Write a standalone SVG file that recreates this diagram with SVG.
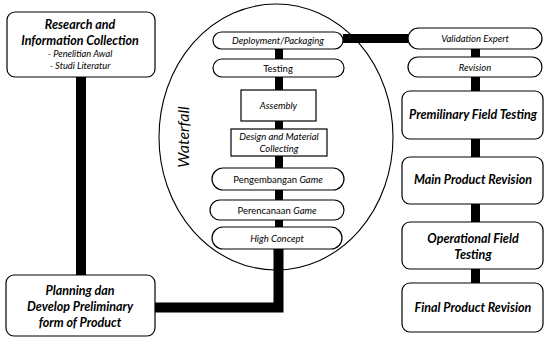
<svg xmlns="http://www.w3.org/2000/svg" width="544" height="338" viewBox="0 0 544 338">
<style>
text{font-family:"Lato","Liberation Sans",sans-serif;fill:#000;text-anchor:middle}
.b{font-weight:bold;font-style:italic;font-size:12.5px}
.i{font-style:italic;font-size:9.5px}
.n{font-size:9.5px}
.s{font-style:italic;font-size:9.3px}
.box{fill:#fff;stroke:#000;stroke-width:1.2}
.c{stroke:#000;fill:none;stroke-linejoin:miter}
</style>
<rect width="544" height="338" fill="#fff"/>
<g id="waterfall">
<ellipse cx="276" cy="137" rx="117" ry="133" fill="none" stroke="#000" stroke-width="1.1"/>
<text transform="translate(189,137) rotate(-90)" style="font-style:italic;font-size:16px">Waterfall</text>
</g>
<g id="connectors">
<path class="c" stroke-width="10" d="M81,77V275"/>
<path class="c" stroke-width="10" d="M155,307.5H278.5V249"/>
<path class="c" stroke-width="8" d="M279,49V59M279,77V90M279,121V129M279,156V168M279,190V200M279,220V227"/>
<path class="c" stroke-width="9" d="M343,38.5H408"/>
<path class="c" stroke-width="9" d="M475.5,49V57M475.5,77V91M475.5,139V157M475.5,204V222M475.5,269V283"/>
</g>
<g id="research">
<rect class="box" x="7" y="12" width="148" height="65" rx="8"/>
<text class="b" x="80" y="29">Research and</text>
<text class="b" x="80" y="45">Information Collection</text>
<text class="s" x="80" y="57">- Penelitian Awal</text>
<text class="s" x="80" y="69">- Studi Literatur</text>
</g>
<g id="planning">
<rect class="box" x="6" y="275" width="149" height="61" rx="8"/>
<text class="b" x="80" y="295">Planning dan</text>
<text class="b" x="80" y="311">Develop Preliminary</text>
<text class="b" x="80" y="327">form of Product</text>
</g>
<g id="deployment">
<rect class="box" x="213" y="32" width="130" height="17" rx="8.5"/>
<text class="i" x="278" y="44">Deployment/Packaging</text>
</g>
<g id="testing">
<rect class="box" x="213" y="59" width="131" height="18" rx="9"/>
<text class="n" x="278" y="72">Testing</text>
</g>
<g id="assembly">
<rect class="box" x="241" y="90" width="75" height="31"/>
<text class="i" x="278.5" y="109">Assembly</text>
</g>
<g id="design">
<rect class="box" x="231" y="129" width="96" height="27"/>
<text class="i" x="279" y="140">Design and Material</text>
<text class="i" x="279" y="152">Collecting</text>
</g>
<g id="pengembangan">
<rect class="box" x="212" y="168" width="132" height="22" rx="11"/>
<text class="n" x="278" y="183">Pengembangan <tspan font-style="italic">Game</tspan></text>
</g>
<g id="perencanaan">
<rect class="box" x="210" y="200" width="134" height="20" rx="10"/>
<text class="n" x="277" y="214">Perencanaan <tspan font-style="italic">Game</tspan></text>
</g>
<g id="highconcept">
<rect class="box" x="212" y="227" width="130" height="22" rx="11"/>
<text class="i" x="277" y="242">High Concept</text>
</g>
<g id="validation">
<rect class="box" x="408" y="28" width="134" height="21" rx="10.5"/>
<text class="i" x="475" y="42">Validation Expert</text>
</g>
<g id="revision">
<rect class="box" x="408" y="57" width="134" height="20" rx="10"/>
<text class="i" x="475" y="71">Revision</text>
</g>
<g id="premilinary">
<rect class="box" x="402" y="91" width="141" height="48" rx="8"/>
<text class="b" x="473" y="119">Premilinary Field Testing</text>
</g>
<g id="mainrevision">
<rect class="box" x="402" y="157" width="141" height="47" rx="8"/>
<text class="b" x="473" y="184">Main Product Revision</text>
</g>
<g id="operational">
<rect class="box" x="402" y="222" width="141" height="47" rx="8"/>
<text class="b" x="473" y="243">Operational Field</text>
<text class="b" x="473" y="259">Testing</text>
</g>
<g id="finalrevision">
<rect class="box" x="402" y="283" width="141" height="49" rx="8"/>
<text class="b" x="473" y="312">Final Product Revision</text>
</g>
</svg>
